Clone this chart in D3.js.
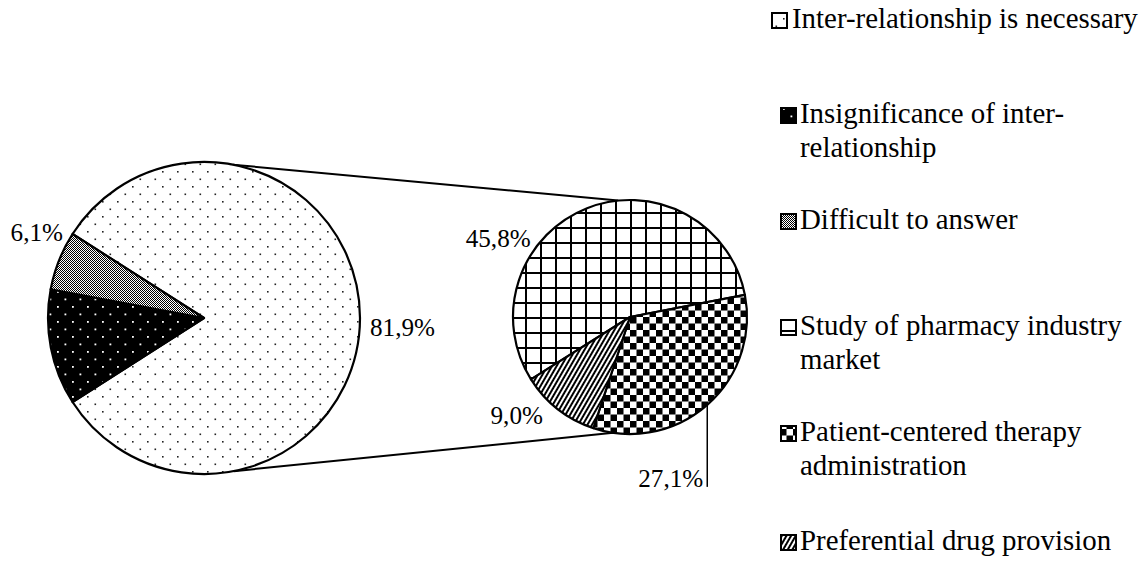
<!DOCTYPE html>
<html>
<head>
<meta charset="utf-8">
<script src="https://cdn.jsdelivr.net/npm/d3@7"></script>
<style>
  html, body { margin: 0; padding: 0; background: #fff; }
  svg { display: block; }
</style>
</head>
<body>
<div id="chart"></div>
<script>
// ---------- data ----------
const mainCategories = ["Inter-relationship is necessary", "Insignificance of inter-relationship", "Difficult to answer"];
const mainValues = [81.9, 12.0, 6.1];
const mainLabels = ["81,9%", null, "6,1%"];

const subCategories = ["Study of pharmacy industry market", "Patient-centered therapy administration", "Preferential drug provision"];
const subValues = [45.8, 27.1, 9.0];
const subLabels = ["45,8%", "27,1%", "9,0%"];

const legendLines = [
  ["Inter-relationship is necessary"],
  ["Insignificance of inter-", "relationship"],
  ["Difficult to answer"],
  ["Study of pharmacy industry", "market"],
  ["Patient-centered therapy", "administration"],
  ["Preferential drug provision"]
];

// ---------- font detection ----------
const cv = document.createElement("canvas").getContext("2d");
function width(font, txt) { cv.font = "40px " + font; return cv.measureText(txt).width; }
const probe = "Inter-relationship is necessary 81,9%";
function available(name) {
  return ["monospace", "sans-serif"].some(fb => width(`"${name}", ${fb}`, probe) !== width(fb, probe));
}
const candidates = ["Liberation Serif", "Tinos", "Times New Roman", "Nimbus Roman", "DejaVu Serif", "Noto Serif"];
const found = candidates.find(available);
const FONT = found ? `"${found}", serif` : "serif";
function fitSize(txt, target) { return 40 * target / width(FONT, txt); }

// ---------- layout ----------
const W = 1146, H = 567;
const svg = d3.select("#chart").append("svg").attr("width", W).attr("height", H)
  .style("font-family", FONT);
const defs = svg.append("defs");
const deg = Math.PI / 180;

function pat(id, w, h, build, transform) {
  const p = defs.append("pattern").attr("id", id).attr("patternUnits", "userSpaceOnUse")
    .attr("width", w).attr("height", h);
  if (transform) p.attr("patternTransform", transform);
  build(p);
}
pat("pDots", 15, 15, p => {
  p.append("rect").attr("width", 15).attr("height", 15).attr("fill", "#fff");
  p.append("rect").attr("x", 3).attr("y", 3).attr("width", 1.6).attr("height", 1.6).attr("fill", "#222");
  p.append("rect").attr("x", 10.5).attr("y", 10.5).attr("width", 1.6).attr("height", 1.6).attr("fill", "#222");
});
pat("pDotsInv", 15, 15, p => {
  p.append("rect").attr("width", 15).attr("height", 15).attr("fill", "#000");
  p.append("rect").attr("x", 3).attr("y", 3).attr("width", 1.8).attr("height", 1.8).attr("fill", "#fff");
  p.append("rect").attr("x", 10.5).attr("y", 10.5).attr("width", 1.8).attr("height", 1.8).attr("fill", "#fff");
});
pat("pGrey", 2, 2, p => {
  p.append("rect").attr("width", 2).attr("height", 2).attr("fill", "#fff");
  p.append("rect").attr("x", 0).attr("y", 0).attr("width", 1).attr("height", 1).attr("fill", "#000");
  p.append("rect").attr("x", 1).attr("y", 1).attr("width", 1).attr("height", 1).attr("fill", "#000");
});
pat("pGrid", 15, 15, p => {
  p.append("rect").attr("width", 15).attr("height", 15).attr("fill", "#fff");
  p.append("rect").attr("x", 0).attr("y", 0).attr("width", 2).attr("height", 15).attr("fill", "#000");
  p.append("rect").attr("x", 0).attr("y", 0).attr("width", 15).attr("height", 2).attr("fill", "#000");
});
pat("pChecker", 13, 13, p => {
  p.append("rect").attr("width", 13).attr("height", 13).attr("fill", "#fff");
  p.append("rect").attr("x", 0).attr("y", 0).attr("width", 6.5).attr("height", 6.5).attr("fill", "#000");
  p.append("rect").attr("x", 6.5).attr("y", 6.5).attr("width", 6.5).attr("height", 6.5).attr("fill", "#000");
});
pat("pStripes", 4, 4, p => {
  p.append("rect").attr("width", 4).attr("height", 4).attr("fill", "#fff");
  p.append("rect").attr("x", 0).attr("y", 0).attr("width", 2).attr("height", 4).attr("fill", "#000");
}, "rotate(30)");

const mainFills = ["url(#pDots)", "url(#pDotsInv)", "url(#pGrey)"];
const subFills = ["url(#pGrid)", "url(#pChecker)", "url(#pStripes)"];
const legendFills = mainFills.concat(subFills);

// geometry
const L = { cx: 204, cy: 318, r: 156 };
const R = { cx: 630, cy: 317, r: 117 };
const polar = (c, a, rr) => [c.cx + rr * Math.sin(a), c.cy - rr * Math.cos(a)];

const mainTotal = d3.sum(mainValues);
const mainStart = Math.PI / 2 - (mainValues[0] / mainTotal) * Math.PI;
const mainPie = d3.pie().sort(null).startAngle(mainStart).endAngle(mainStart + 2 * Math.PI)(mainValues);

const subStart = -122.2 * deg;
const subPie = d3.pie().sort(null).startAngle(subStart).endAngle(subStart + 2 * Math.PI)(subValues);

// connector lines
const conn = svg.append("g").attr("stroke", "#000").attr("stroke-width", 2).attr("fill", "none");
const topL = polar(L, 10.6 * deg, L.r), topR = polar(R, -5.8 * deg, R.r);
const botL = polar(L, 169 * deg, L.r), botR = polar(R, 188.2 * deg, R.r);
conn.append("line").attr("x1", topL[0]).attr("y1", topL[1]).attr("x2", topR[0]).attr("y2", topR[1]);
conn.append("line").attr("x1", botL[0]).attr("y1", botL[1]).attr("x2", botR[0]).attr("y2", botR[1]);

// pies
const arcL = d3.arc().innerRadius(0).outerRadius(L.r);
const arcR = d3.arc().innerRadius(0).outerRadius(R.r);

svg.append("g").attr("transform", `translate(${L.cx},${L.cy})`)
  .selectAll("path").data(mainPie).join("path")
  .attr("d", arcL).attr("fill", (d, i) => mainFills[i])
  .attr("stroke", "#000").attr("stroke-width", 2.2).attr("stroke-linejoin", "round");

svg.append("g").attr("transform", `translate(${R.cx},${R.cy})`)
  .selectAll("path").data(subPie).join("path")
  .attr("d", arcR).attr("fill", (d, i) => subFills[i])
  .attr("stroke", "#000").attr("stroke-width", 2.2).attr("stroke-linejoin", "round");

// labels
const lblSize = fitSize("81,9%", 65);
function label(c, ang, rr, dx, dy, anchor, txt) {
  const p = polar(c, ang, rr);
  svg.append("text").attr("x", p[0] + dx).attr("y", p[1] + dy)
    .attr("text-anchor", anchor).attr("font-size", lblSize).attr("fill", "#000").text(txt);
}
const mid = d => (d.startAngle + d.endAngle) / 2;
label(L, mid(mainPie[0]), L.r, 10, 18, "start", mainLabels[0]);
label(L, mid(mainPie[2]), L.r, 4, -20, "end", mainLabels[2]);
label(R, 300 * deg, R.r, 2, -12, "end", subLabels[0]);
label(R, mid(subPie[2]), R.r, -15, 15, "end", subLabels[2]);
{
  const p = polar(R, mid(subPie[1]), R.r);
  svg.append("line").attr("x1", p[0]).attr("y1", p[1]).attr("x2", p[0]).attr("y2", p[1] + 82)
    .attr("stroke", "#000").attr("stroke-width", 1.5);
  svg.append("text").attr("x", p[0] - 4).attr("y", p[1] + 82)
    .attr("text-anchor", "end").attr("font-size", lblSize).attr("fill", "#000").text(subLabels[1]);
}

// legend
const legSize = fitSize("Inter-relationship is necessary", 346);
const legBase = [28, 123, 229, 335, 441, 550];
const legIconX = [772, 781, 781, 781, 781, 781];
const legTextX = [792, 800, 800, 800, 800, 800];
const lg = svg.append("g");
legendLines.forEach((lines, i) => {
  lg.append("rect").attr("x", legIconX[i]).attr("y", legBase[i] - 15).attr("width", 15).attr("height", 15)
    .attr("fill", legendFills[i]).attr("stroke", "#000").attr("stroke-width", 2);
  const t = lg.append("text").attr("x", legTextX[i]).attr("y", legBase[i])
    .attr("font-size", legSize).attr("fill", "#000");
  lines.forEach((ln, j) => {
    t.append("tspan").attr("x", legTextX[i]).attr("dy", j === 0 ? 0 : 34).text(ln);
  });
});
</script>
</body>
</html>
